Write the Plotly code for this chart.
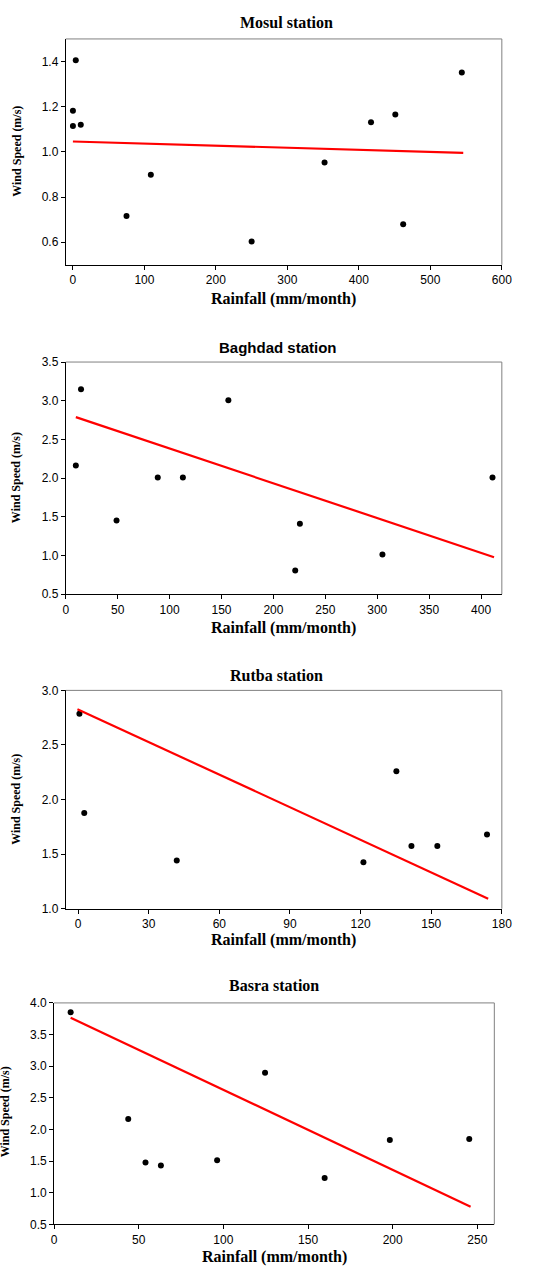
import plotly.graph_objects as go

W, H = 546, 1271

# ---------------- data ----------------
mosul_rain = [0, 0, 4, 11, 75, 109, 250, 352, 417, 451, 462, 544]
mosul_wind = [1.182, 1.115, 1.406, 1.12, 0.716, 0.899, 0.603, 0.953, 1.131, 1.165, 0.680, 1.351]
mosul_fit_x = [0, 546]
mosul_fit_y = [1.046, 0.996]

baghdad_rain = [14.7, 9.7, 48.9, 88.6, 112.8, 156.6, 221, 225.5, 305, 411]
baghdad_wind = [3.15, 2.162, 1.451, 2.009, 2.009, 3.006, 0.807, 1.41, 1.012, 2.009]
baghdad_fit_x = [9.7, 412.5]
baghdad_fit_y = [2.788, 0.978]

rutba_rain = [0.55, 2.6, 41.9, 121.2, 135.2, 141.6, 152.6, 173.7]
rutba_wind = [2.785, 1.876, 1.441, 1.426, 2.26, 1.574, 1.574, 1.68]
rutba_fit_x = [-0.3, 174.2]
rutba_fit_y = [2.828, 1.091]

basra_rain = [9.8, 43.8, 54, 63.1, 96.3, 124.6, 159.8, 198.3, 245.2]
basra_wind = [3.854, 2.167, 1.479, 1.432, 1.516, 2.896, 1.234, 1.833, 1.849]
basra_fit_x = [9.8, 246]
basra_fit_y = [3.766, 0.781]

titles = ["Mosul station", "Baghdad station", "Rutba station", "Basra station"]
x_title = "Rainfall (mm/month)"
y_title = "Wind Speed (m/s)"

# ---------------- layout helpers ----------------
def px(x):
    return x / W

def py(y):
    return 1 - y / H

panels = [
    dict(rain=mosul_rain, wind=mosul_wind, fx=mosul_fit_x, fy=mosul_fit_y,
         box=(64.3, 511, 32.3, 260.7), xr=[-10, 600], xt=(0, 100), yr=[0.5, 1.5], yt=(0.6, 0.2),
         title_pos=(290.7, 15.5), title_font="Liberation Serif", xt_pos=(287.7, 295),
         yt_pos=(14, 145.7)),
    dict(rain=baghdad_rain, wind=baghdad_wind, fx=baghdad_fit_x, fy=baghdad_fit_y,
         box=(64.3, 511, 359, 593.7), xr=[0, 420], xt=(0, 50), yr=[0.5, 3.5], yt=(0.5, 0.5),
         title_pos=(282, 344), title_font="Liberation Sans", xt_pos=(287.7, 627.7),
         yt_pos=(14, 475.7)),
    dict(rain=rutba_rain, wind=rutba_wind, fx=rutba_fit_x, fy=rutba_fit_y,
         box=(64.3, 511, 691, 911.7), xr=[-5.25, 180], xt=(0, 30), yr=[1.0, 3.0], yt=(1.0, 0.5),
         title_pos=(280, 676), title_font="Liberation Serif", xt_pos=(287.7, 943.7),
         yt_pos=(14, 801)),
    dict(rain=basra_rain, wind=basra_wind, fx=basra_fit_x, fy=basra_fit_y,
         box=(52.3, 503.3, 1007, 1231), xr=[0, 260], xt=(0, 50), yr=[0.5, 4.0], yt=(0.5, 0.5),
         title_pos=(278, 989), title_font="Liberation Serif", xt_pos=(278, 1263.7),
         yt_pos=(2, 1116.7)),
]

fig = go.Figure()
annotations = []
shapes = []
layout = {}

for i, p in enumerate(panels, start=1):
    xa = "x" if i == 1 else f"x{i}"
    ya = "y" if i == 1 else f"y{i}"
    fig.add_trace(go.Scatter(x=p["rain"], y=p["wind"], mode="markers",
                             marker=dict(color="black", size=6),
                             xaxis=xa, yaxis=ya, showlegend=False))
    fig.add_trace(go.Scatter(x=p["fx"], y=p["fy"], mode="lines",
                             line=dict(color="#ff0000", width=2.2),
                             xaxis=xa, yaxis=ya, showlegend=False))
    x0, x1, y0, y1 = p["box"]
    tick_font = dict(family="Liberation Sans", size=12, color="black")
    layout["xaxis" if i == 1 else f"xaxis{i}"] = dict(
        domain=[px(x0), px(x1)], anchor=ya, range=p["xr"],
        tick0=p["xt"][0], dtick=p["xt"][1], ticks="outside", ticklen=4,
        tickcolor="black", showline=True, linecolor="black", linewidth=1,
        showgrid=False, zeroline=False, tickfont=tick_font)
    layout["yaxis" if i == 1 else f"yaxis{i}"] = dict(
        domain=[py(y1), py(y0)], anchor=xa, range=p["yr"],
        tick0=p["yt"][0], dtick=p["yt"][1], tickformat=".1f", ticks="outside", ticklen=4,
        tickcolor="black", showline=True, linecolor="black", linewidth=1,
        showgrid=False, zeroline=False, tickfont=tick_font)
    # top and right frame (grey)
    shapes.append(dict(type="line", xref=f"{xa} domain", yref=f"{ya} domain",
                       x0=0, x1=1, y0=1, y1=1, line=dict(color="#808080", width=1)))
    shapes.append(dict(type="line", xref=f"{xa} domain", yref=f"{ya} domain",
                       x0=1, x1=1, y0=0, y1=1, line=dict(color="#808080", width=1)))
    annotations.append(dict(text=f"<b>{titles[i-1]}</b>", xref="paper", yref="paper",
                            x=px(p["title_pos"][0]), y=py(p["title_pos"][1]),
                            xanchor="center", yanchor="middle", showarrow=False,
                            font=dict(family=p["title_font"],
                                      size=15 if p["title_font"] == "Liberation Sans" else 16,
                                      color="black")))
    annotations.append(dict(text=f"<b>{x_title}</b>", xref="paper", yref="paper",
                            x=px(p["xt_pos"][0]), y=py(p["xt_pos"][1]),
                            xanchor="center", yanchor="middle", showarrow=False,
                            font=dict(family="Liberation Serif", size=16, color="black")))
    annotations.append(dict(text=f"<b>{y_title}</b>", xref="paper", yref="paper",
                            x=px(p["yt_pos"][0]), y=py(p["yt_pos"][1]), textangle=-90,
                            xanchor="center", yanchor="middle", showarrow=False,
                            font=dict(family="Liberation Serif", size=12, color="black")))

fig.update_layout(
    width=W, height=H, margin=dict(l=0, r=0, t=0, b=0),
    plot_bgcolor="white", paper_bgcolor="white",
    annotations=annotations, shapes=shapes, **layout)

fig.write_html("out.html", config={"displayModeBar": False},
               post_script="document.body.style.margin='0px';document.body.style.overflow='hidden';")
